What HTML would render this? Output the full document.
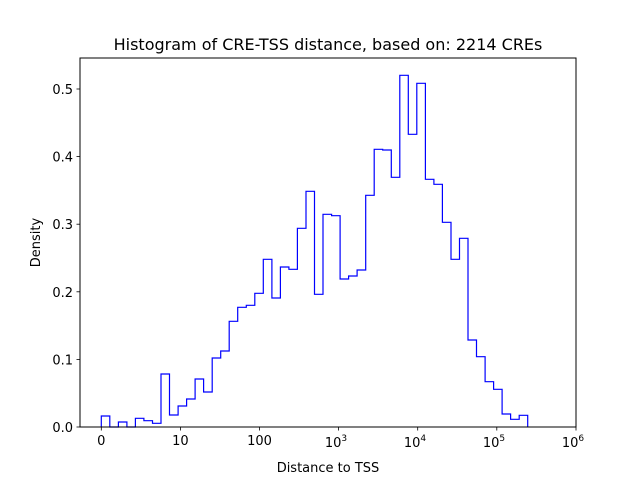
<!DOCTYPE html>
<html><head><meta charset="utf-8"><style>body{margin:0;background:#fff}svg{display:block}text{font-family:"DejaVu Sans","Liberation Sans",sans-serif;fill:#000}</style></head>
<body>
<svg width="640" height="480" viewBox="0 0 640 480" xmlns="http://www.w3.org/2000/svg">
<rect width="640" height="480" fill="#fff"/>
<path d="M101.3,427 V416 H109.8 V427 H118.4 V422 H126.9 V427 H135.4 V418.3 H143.9 V420.7 H152.5 V423.3 H161.0 V374 H169.5 V415 H178.1 V406 H186.6 V399 H195.1 V379 H203.6 V392 H212.2 V358 H220.7 V351 H229.2 V321.3 H237.7 V307.3 H246.3 V305.3 H254.8 V293.3 H263.3 V259.3 H271.9 V298 H280.4 V267 H288.9 V269.3 H297.4 V228.3 H306.0 V191.3 H314.5 V294.3 H323.0 V214.3 H331.6 V215.7 H340.1 V279 H348.6 V276 H357.1 V270 H365.7 V195.3 H374.2 V149.3 H382.7 V150 H391.3 V177.3 H399.8 V75.3 H408.3 V134.3 H416.8 V83.3 H425.4 V179.3 H433.9 V184.3 H442.4 V222.3 H451.0 V259.3 H459.5 V238.3 H468.0 V340 H476.5 V356.7 H485.1 V381.7 H493.6 V389.3 H502.1 V414 H510.6 V419.3 H519.2 V415.3 H527.7 V427" fill="none" stroke="#0000ff" stroke-width="1.2"/>
<rect x="80" y="58" width="496" height="369" fill="none" stroke="#000" stroke-width="1"/>
<g stroke="#000" stroke-width="0.8">
<line x1="101.3" y1="427" x2="101.3" y2="430.5"/><line x1="180.4" y1="427" x2="180.4" y2="430.5"/><line x1="259.5" y1="427" x2="259.5" y2="430.5"/><line x1="338.6" y1="427" x2="338.6" y2="430.5"/><line x1="417.7" y1="427" x2="417.7" y2="430.5"/><line x1="496.8" y1="427" x2="496.8" y2="430.5"/><line x1="576" y1="427" x2="576" y2="430.5"/>
<line x1="76.5" y1="427" x2="80" y2="427"/><line x1="76.5" y1="359.4" x2="80" y2="359.4"/><line x1="76.5" y1="291.8" x2="80" y2="291.8"/><line x1="76.5" y1="224.2" x2="80" y2="224.2"/><line x1="76.5" y1="156.6" x2="80" y2="156.6"/><line x1="76.5" y1="89" x2="80" y2="89"/>
</g>
<g font-size="13" text-anchor="end">
<text x="73" y="432">0.0</text><text x="73" y="364.4">0.1</text><text x="73" y="296.8">0.2</text><text x="73" y="229.2">0.3</text><text x="73" y="161.6">0.4</text><text x="73" y="94">0.5</text>
</g>
<g font-size="13" text-anchor="middle">
<text x="101.3" y="445">0</text><text x="180.4" y="445">10</text><text x="259.5" y="445">100</text>
<text x="336" y="447">10<tspan font-size="9" dy="-6">3</tspan></text>
<text x="415" y="447">10<tspan font-size="9" dy="-6">4</tspan></text>
<text x="494" y="447">10<tspan font-size="9" dy="-6">5</tspan></text>
<text x="573" y="447">10<tspan font-size="9" dy="-6">6</tspan></text>
<text x="328" y="472">Distance to TSS</text>
<text x="328" y="50" font-size="16">Histogram of CRE-TSS distance, based on: 2214 CREs</text>
</g>
<text transform="translate(40,242.5) rotate(-90)" font-size="13" text-anchor="middle">Density</text>
</svg>
</body></html>
